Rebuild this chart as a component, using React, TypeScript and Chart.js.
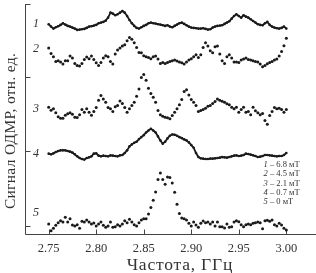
import React, { useEffect, useRef } from 'react';
import { Chart, registerables } from 'chart.js';

Chart.register(...registerables);

// Frequency grid, GHz
const FREQ_GHZ = [
  2.75, 2.7525, 2.755, 2.7575, 2.76, 2.7625, 2.765, 2.7675, 2.77, 2.7725,
  2.775, 2.7775, 2.78, 2.7825, 2.785, 2.7875, 2.79, 2.7925, 2.795, 2.7975,
  2.8, 2.8025, 2.805, 2.8075, 2.81, 2.8125, 2.815, 2.8175, 2.82, 2.8225,
  2.825, 2.8275, 2.83, 2.8325, 2.835, 2.8375, 2.84, 2.8425, 2.845, 2.8475,
  2.85, 2.8525, 2.855, 2.8575, 2.86, 2.8625, 2.865, 2.8675, 2.87, 2.8725,
  2.875, 2.8775, 2.88, 2.8825, 2.885, 2.8875, 2.89, 2.8925, 2.895, 2.8975,
  2.9, 2.9025, 2.905, 2.9075, 2.91, 2.9125, 2.915, 2.9175, 2.92, 2.9225,
  2.925, 2.9275, 2.93, 2.9325, 2.935, 2.9375, 2.94, 2.9425, 2.945, 2.9475,
  2.95, 2.9525, 2.955, 2.9575, 2.96, 2.9625, 2.965, 2.9675, 2.97, 2.9725,
  2.975, 2.9775, 2.98, 2.9825, 2.985, 2.9875, 2.99, 2.9925, 2.995, 2.9975,
  3.0,
];

// ODMR signal (relative units, traces shown with vertical offsets)
const SIGNAL_1 = [
  202.7, 200.3, 198.3, 199.7, 200.7, 202, 203.7, 202.3, 201, 200.3,
  199.3, 198.3, 197, 197.3, 197.7, 198, 199, 200.3, 200.7, 201.3,
  202, 203.7, 204.3, 205, 206.3, 209.3, 214.3, 213.3, 211.7, 212.7,
  214.3, 216, 214.3, 211, 207, 203.7, 201, 199, 198.3, 199.7,
  201, 202, 203.7, 204.3, 203.7, 203.3, 202.7, 202.3, 201.7, 201,
  201.7, 200.3, 199.7, 201, 202.3, 203.7, 204.3, 203, 201.7, 200.3,
  199.3, 199, 198.7, 198.3, 198.3, 198.7, 198, 197.3, 197.7, 199.3,
  200.3, 201, 201.3, 201.7, 203, 204.3, 205.7, 208.3, 211, 212.7,
  211, 209.3, 211.7, 210.3, 209.3, 207.7, 206, 204.3, 202.7, 202,
  201.7, 203.7, 205, 202, 200.3, 199.3, 198.7, 198.3, 199, 200.3,
  198.3,
];
const SIGNAL_2 = [
  178.7, 173.3, 170, 165.3, 166, 164.7, 162.7, 166, 166, 170.7,
  168.7, 163.3, 161.3, 160.7, 163.3, 167.3, 169.7, 168, 170.7, 167.3,
  164, 161.3, 164.3, 168.7, 171, 170, 165.3, 162.7, 172.7, 176.7,
  178.7, 180.7, 182, 186, 189.3, 187.7, 184, 179.3, 174.3, 174,
  171, 170, 169.3, 168, 170, 170.7, 167.7, 163.3, 164.3, 163.3,
  164.3, 165.3, 166, 166.7, 165.7, 164.7, 164, 162.7, 164.7, 166.7,
  168, 170, 172, 169.3, 172, 179.3, 184, 180.7, 176, 174,
  180, 180.7, 172.7, 166, 163.3, 170, 172, 168.7, 164.7, 164.7,
  164.3, 166.7, 167.7, 168.7, 167.3, 166.7, 166, 165.3, 164.7, 162.7,
  160, 161.3, 163, 164.3, 165.3, 166.7, 167.7, 170.7, 175.3, 181,
  188.7,
];
const SIGNAL_3 = [
  119.3, 116.3, 117.7, 113.7, 109.7, 108.3, 108.3, 111.3, 112.7, 113.7,
  112.3, 109.3, 109, 111.7, 117, 114.3, 117.7, 114.3, 111.3, 115,
  119, 126.3, 131, 127.7, 124.3, 119, 117.7, 115, 119.7, 121,
  125.7, 123, 119, 114.3, 117.7, 121, 124.3, 130.3, 137.7, 149.3,
  152.3, 146.3, 138.3, 133, 129.3, 124.3, 116, 111.7, 110.3, 109.3,
  108.7, 107.7, 111, 114.3, 117.7, 121.7, 127, 135, 137, 131.7,
  127, 124.3, 121, 115, 116, 117, 118.3, 120.3, 121, 123,
  125, 127.7, 126.3, 125.3, 124.3, 122.7, 121.7, 119.3, 117.7, 119.3,
  114.3, 117, 119.3, 114.3, 115, 111.7, 119.3, 115.7, 113.7, 111.7,
  113, 106, 102.3, 111, 115, 119, 117.7, 118.3, 117, 114.3,
  117,
];
const SIGNAL_4 = [
  72.7, 72, 73, 74.3, 75.3, 76, 76, 76, 75.3, 74.7,
  73.7, 72, 70, 68.3, 67.3, 66.7, 68.3, 69, 70, 72.7,
  73, 70.7, 70, 70.7, 70.3, 70, 71, 70.7, 70.3, 70,
  71, 71.3, 73.3, 76, 80, 82, 83.7, 84.7, 87.3, 89.3,
  91.3, 94, 96, 97.7, 96, 94, 90, 86, 82.7, 84.7,
  88, 90.7, 92, 91.7, 90.7, 89.3, 88.3, 87, 86, 84,
  81.3, 78.7, 73.3, 69.3, 68, 67.7, 67.3, 67.3, 67.7, 67.7,
  68, 68.3, 68.7, 69.3, 69, 68.7, 69.3, 70, 70.7, 71,
  70.3, 70.7, 71.3, 72.7, 72.3, 71.7, 71, 70.3, 69.3, 69.7,
  70.3, 71.3, 71.3, 71, 70.7, 70.3, 70, 70.3, 70.3, 71.3,
  73.3,
];
const SIGNAL_5 = [
  2, -4.7, -2.3, 0.7, 3.3, 5.3, 4, 8.7, 4, 7.3,
  1, 0, 1.3, -2.3, 4.7, 4, 6, 4, 2, 3,
  0, 2, 4, 0.7, -1.3, 0, 4, -1.3, -0.7, 1.3,
  0, 2, 5.3, 3.3, 6.7, 4, 1.3, 0, 3.3, 6,
  7.3, 7.3, 12, 18.7, 26, 34.3, 46.7, 53.3, 46.7, 42,
  49.3, 48.7, 43.3, 34, 22, 12.7, 8, 7.3, 6, 2.7,
  0, 4, 1, -1.3, 2.7, 5, 3.3, 4, 2, 4,
  0, 4, -0.7, -0.7, -2, 2, -1.3, -0.7, 4, 5.3,
  4.3, 1.3, -0.7, 1.3, 2, 1.3, 2.7, 3.3, 4, 3.3,
  -2.7, 5.3, 5.7, 4.7, 6, 1.3, 0, 2.7, 1, -2.3,
  -4,
];

const TRACE_NAMES = ['1', '2', '3', '4', '5'];
const FIELD_LABELS = ['6.8 мТ', '4.5 мТ', '2.1 мТ', '0.7 мТ', '0 мТ'];
const TRACE_LABEL_LEVELS = [203, 178, 118, 73, 13];
const X_TICKS = [2.75, 2.8, 2.85, 2.9, 2.95, 3.0];
const Y_TICKS = [0, 75, 150, 223];
const X_TITLE = 'Частота, ГГц';
const Y_TITLE = 'Сигнал ОДМР, отн. ед.';

const SERIES = [SIGNAL_1, SIGNAL_2, SIGNAL_3, SIGNAL_4, SIGNAL_5];
const DENSE = [true, false, false, true, false];

const FONT = '"Liberation Serif", "Times New Roman", serif';
const INK = '#1a1a1a';
const AXIS = '#444';

const overlay = {
  id: 'overlay',
  beforeDatasetsDraw(chart: any) {
    const { ctx, chartArea } = chart;
    const xs = chart.scales.x;
    const ys = chart.scales.y;
    const x0 = Math.round(chartArea.left) + 0.5;
    const yb = Math.round(chartArea.bottom) + 0.5;
    ctx.save();
    ctx.strokeStyle = AXIS;
    ctx.lineWidth = 1;
    ctx.beginPath();
    ctx.moveTo(x0, Math.round(chartArea.top));
    ctx.lineTo(x0, yb);
    ctx.lineTo(chart.width, yb);
    for (const v of Y_TICKS) {
      const py = Math.round(ys.getPixelForValue(v)) + 0.5;
      ctx.moveTo(x0, py);
      ctx.lineTo(x0 + 5, py);
    }
    for (const v of X_TICKS) {
      const px = Math.round(xs.getPixelForValue(v)) + 0.5;
      ctx.moveTo(px, yb);
      ctx.lineTo(px, yb - 5);
    }
    ctx.stroke();
    ctx.restore();
  },
  afterDraw(chart: any) {
    const { ctx, chartArea } = chart;
    const xs = chart.scales.x;
    const ys = chart.scales.y;
    ctx.save();
    ctx.fillStyle = '#333';
    ctx.textAlign = 'center';
    ctx.textBaseline = 'middle';
    ctx.font = `17.5px ${FONT}`;
    (ctx as any).letterSpacing = '0.8px';
    ctx.fillText(X_TITLE, xs.getPixelForValue(2.888), chartArea.bottom + 31);
    (ctx as any).letterSpacing = '0.3px';
    ctx.font = `15.5px ${FONT}`;
    ctx.save();
    ctx.translate(11, 131);
    ctx.rotate(-Math.PI / 2);
    ctx.fillText(Y_TITLE, 0, 0);
    ctx.restore();
    (ctx as any).letterSpacing = '0px';

    ctx.font = `italic 12px ${FONT}`;
    const lx = chartArea.left + 11;
    TRACE_NAMES.forEach((n, i) => {
      ctx.fillText(n, lx, ys.getPixelForValue(TRACE_LABEL_LEVELS[i]));
    });

    // legend
    ctx.textAlign = 'left';
    const legX = xs.getPixelForValue(2.9761);
    let legY = 165;
    TRACE_NAMES.forEach((n, i) => {
      ctx.font = `italic 8.5px ${FONT}`;
      ctx.fillText(n, legX, legY);
      const w = ctx.measureText(n).width;
      ctx.font = `8.5px ${FONT}`;
      ctx.fillText(` – ${FIELD_LABELS[i]}`, legX + w, legY);
      legY += 9.2;
    });
    ctx.restore();
  },
};

export default function App() {
  const ref = useRef<HTMLCanvasElement | null>(null);
  useEffect(() => {
    const canvas = ref.current;
    if (!canvas) return;
    const chart = new Chart(canvas, {
      type: 'scatter',
      data: {
        datasets: SERIES.map((s, k) => ({
          label: TRACE_NAMES[k],
          data: FREQ_GHZ.map((f, i) => ({ x: f, y: s[i] })),
          showLine: DENSE[k],
          borderColor: INK,
          borderWidth: 1.8,
          pointRadius: DENSE[k] ? 1.3 : 1.5,
          pointBackgroundColor: INK,
          pointBorderWidth: 0,
        })),
      },
      options: {
        animation: false,
        responsive: false,
        events: [],
        layout: { padding: { left: 25, top: 3, right: 0, bottom: 0 } },
        plugins: { legend: { display: false }, tooltip: { enabled: false } },
        scales: {
          x: {
            type: 'linear',
            min: 2.7251,
            max: 3.027,
            grid: { display: false, drawTicks: false },
            border: { display: false },
            afterBuildTicks: (s: any) => {
              s.ticks = X_TICKS.map((v) => ({ value: v }));
            },
            afterFit: (s: any) => {
              s.height = 39;
            },
            ticks: {
              callback: (v: any) => Number(v).toFixed(2),
              font: { family: FONT, size: 12.5 },
              color: '#333',
              padding: 7,
              maxRotation: 0,
              autoSkip: false,
            },
          },
          y: {
            display: false,
            min: -8,
            max: 223,
          },
        },
      },
      plugins: [overlay],
    } as any);
    return () => chart.destroy();
  }, []);
  return (
    <div style={{ position: 'absolute', left: 0, top: 0, width: 316, height: 273, background: '#fff' }}>
      <canvas ref={ref} width={316} height={273} style={{ display: 'block' }} />
    </div>
  );
}
